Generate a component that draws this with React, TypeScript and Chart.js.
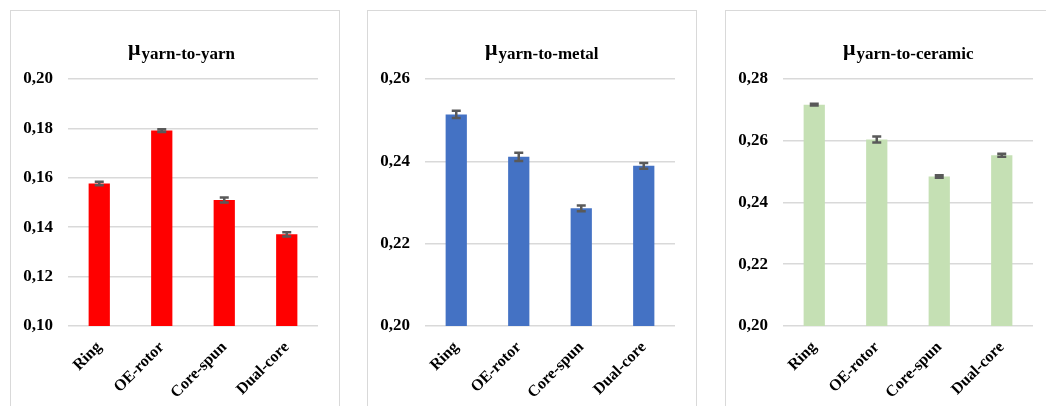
import React, { useEffect, useRef } from "react";
import { Chart, registerables } from "chart.js";

Chart.register(...registerables);

const categories = ["Ring", "OE-rotor", "Core-spun", "Dual-core"];

const yarnValues = [0.1577, 0.1791, 0.151, 0.1371];
const yarnErrors = [0.0007, 0.0006, 0.001, 0.0009];
const yarnTicks = [0.1, 0.12, 0.14, 0.16, 0.18, 0.2];

const metalValues = [0.2514, 0.2411, 0.2286, 0.2389];
const metalErrors = [0.0009, 0.001, 0.0007, 0.0007];
const metalTicks = [0.2, 0.22, 0.24, 0.26];

const ceramicValues = [0.2717, 0.2604, 0.2484, 0.2553];
const ceramicErrors = [0.0003, 0.001, 0.0004, 0.0005];
const ceramicTicks = [0.2, 0.22, 0.24, 0.26, 0.28];

type PanelDef = {
  sub: string;
  values: number[];
  errors: number[];
  ticks: number[];
  color: string;
  left: number;
};

const panels: PanelDef[] = [
  { sub: "yarn-to-yarn", values: yarnValues, errors: yarnErrors, ticks: yarnTicks, color: "#FF0000", left: 10 },
  { sub: "yarn-to-metal", values: metalValues, errors: metalErrors, ticks: metalTicks, color: "#4472C4", left: 367 },
  { sub: "yarn-to-ceramic", values: ceramicValues, errors: ceramicErrors, ticks: ceramicTicks, color: "#C5E0B4", left: 725 },
];

const SERIF = "'Liberation Serif', 'Times New Roman', serif";
const CW = 328;
const CH = 395;

function Panel({ def }: { def: PanelDef }) {
  const ref = useRef<HTMLCanvasElement | null>(null);
  useEffect(() => {
    if (!ref.current) return;
    const errorBars = {
      id: "errorBars",
      afterDatasetsDraw(chart: any) {
        const meta = chart.getDatasetMeta(0);
        const y = chart.scales.y;
        const ctx = chart.ctx;
        ctx.save();
        ctx.strokeStyle = "#595959";
        ctx.lineWidth = 2.5;
        meta.data.forEach((bar: any, i: number) => {
          const v = def.values[i];
          const e = def.errors[i];
          const yt = y.getPixelForValue(v + e);
          const yb = y.getPixelForValue(v - e);
          const x = bar.x;
          ctx.beginPath();
          ctx.moveTo(x, yt);
          ctx.lineTo(x, yb);
          ctx.moveTo(x - 4.5, yt);
          ctx.lineTo(x + 4.5, yt);
          ctx.moveTo(x - 4.5, yb);
          ctx.lineTo(x + 4.5, yb);
          ctx.stroke();
        });
        ctx.restore();
      },
    };
    const titlePlugin = {
      id: "subTitle",
      afterDraw(chart: any) {
        const ctx = chart.ctx;
        ctx.save();
        ctx.fillStyle = "#000";
        ctx.textBaseline = "alphabetic";
        ctx.textAlign = "left";
        ctx.font = `bold 22px ${SERIF}`;
        const x0 = 117;
        ctx.fillText("μ", x0, 44);
        const w = ctx.measureText("μ").width;
        ctx.font = `bold 17px ${SERIF}`;
        ctx.fillText(def.sub, x0 + w + 1, 48);
        ctx.restore();
      },
    };
    const minV = def.ticks[0];
    const maxV = def.ticks[def.ticks.length - 1];
    const chart = new Chart(ref.current, {
      type: "bar",
      data: {
        labels: categories,
        datasets: [
          {
            data: def.values,
            backgroundColor: def.color,
            borderWidth: 0,
            categoryPercentage: 1,
            barPercentage: 0.34,
          },
        ],
      },
      options: {
        animation: false,
        responsive: false,
        devicePixelRatio: 1,
        layout: { padding: { top: 68, right: 21, left: 0, bottom: 0 } },
        plugins: { legend: { display: false }, tooltip: { enabled: false }, title: { display: false } },
        scales: {
          x: {
            grid: { display: false },
            border: { display: false },
            ticks: {
              color: "#000",
              font: { family: SERIF, size: 16, weight: "bold" },
              minRotation: 45,
              maxRotation: 45,
              padding: 4,
            },
            afterFit(scale: any) {
              scale.height = 80;
            },
          },
          y: {
            min: minV,
            max: maxV,
            grid: { color: "#D9D9D9", lineWidth: 1.5, drawTicks: false },
            border: { display: false },
            ticks: {
              stepSize: 0.02,
              color: "#000",
              padding: 15,
              font: { family: SERIF, size: 17, weight: "bold" },
              callback: (v: any) => Number(v).toFixed(2).replace(".", ","),
            },
            afterFit(scale: any) {
              scale.width = 57;
            },
          },
        },
      } as any,
      plugins: [errorBars, titlePlugin],
    });
    return () => chart.destroy();
  }, [def]);
  return (
    <div
      style={{
        position: "absolute",
        left: def.left,
        top: 10,
        width: 328,
        height: 420,
        border: "1px solid #D9D9D9",
        background: "#fff",
      }}
    >
      <canvas ref={ref} width={CW} height={CH} style={{ display: "block" }} />
    </div>
  );
}

export default function App() {
  return (
    <div
      style={{
        position: "fixed",
        left: 0,
        top: 0,
        width: 1046,
        height: 406,
        overflow: "hidden",
        background: "#fff",
      }}
    >
      {panels.map((p) => (
        <Panel key={p.sub} def={p} />
      ))}
    </div>
  );
}
